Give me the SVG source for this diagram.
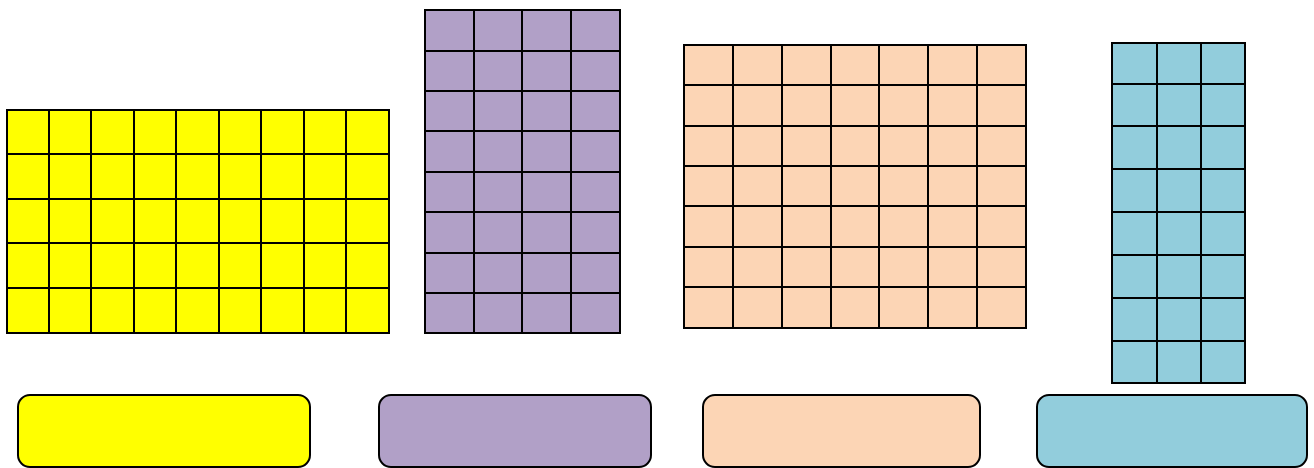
<svg xmlns="http://www.w3.org/2000/svg" width="1314" height="468" viewBox="0 0 1314 468">
<defs>
<style>
.g{stroke:#000;stroke-width:2}
.y{fill:#ffff00}.p{fill:#b1a0c7}.o{fill:#fcd5b5}.b{fill:#92cddc}
.l{stroke:#000;stroke-width:2;fill:none}
.box{stroke:#000;stroke-width:2}
</style>
</defs>
<g id="grid-yellow">
<rect class="g y" x="7" y="110" width="382" height="223"/>
<path class="l" d="M49,110V333M91,110V333M134,110V333M176,110V333M219,110V333M261,110V333M304,110V333M346,110V333M7,154H389M7,199H389M7,243H389M7,288H389"/>
</g>
<g id="grid-purple">
<rect class="g p" x="425" y="10" width="195" height="323"/>
<path class="l" d="M474,10V333M522,10V333M571,10V333M425,51H620M425,91H620M425,131H620M425,172H620M425,212H620M425,253H620M425,293H620"/>
</g>
<g id="grid-peach">
<rect class="g o" x="684" y="45" width="342" height="283"/>
<path class="l" d="M733,45V328M782,45V328M831,45V328M879,45V328M928,45V328M977,45V328M684,85H1026M684,126H1026M684,166H1026M684,206H1026M684,247H1026M684,287H1026"/>
</g>
<g id="grid-blue">
<rect class="g b" x="1112" y="43" width="133" height="340"/>
<path class="l" d="M1157,43V383M1201,43V383M1112,84H1245M1112,126H1245M1112,169H1245M1112,212H1245M1112,255H1245M1112,298H1245M1112,341H1245"/>
</g>
<g id="box-yellow"><rect class="box y" x="18" y="395" width="292" height="72" rx="12"/></g>
<g id="box-purple"><rect class="box p" x="379" y="395" width="272" height="72" rx="12"/></g>
<g id="box-peach"><rect class="box o" x="703" y="395" width="277" height="72" rx="12"/></g>
<g id="box-blue"><rect class="box b" x="1037" y="395" width="270" height="72" rx="12"/></g>
<g id="connectors"></g>
</svg>
